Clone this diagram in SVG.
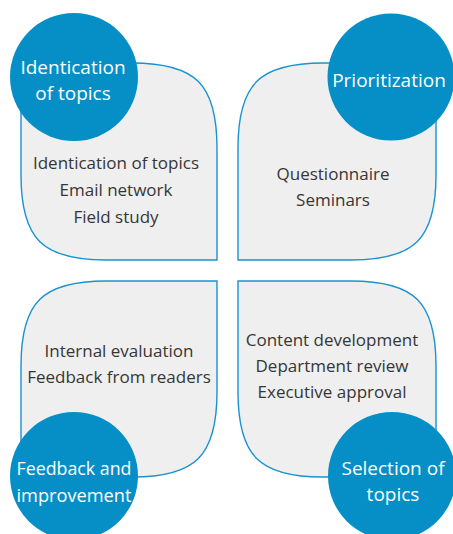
<svg xmlns="http://www.w3.org/2000/svg" width="453" height="534" viewBox="0 0 453 534">
<style>
.petal{fill:#efefef;stroke:#1a93cf;stroke-width:1.4}
.dot{fill:#058fc6}
.ct{font-family:"Open Sans","Noto Sans",sans-serif;font-size:19px;fill:#ffffff;text-anchor:middle}
.bt{font-family:"Open Sans","Noto Sans",sans-serif;font-size:17px;fill:#363636;text-anchor:middle}
</style>
<rect width="453" height="534" fill="#ffffff"/>
<g id="connectors"></g>
<g id="node-identification">
<path class="petal" d="M21,63 H132 C195.75,63 217,84.25 217,148 V260 H106 C42.25,260 21,238.75 21,175 Z"/>
<circle class="dot" cx="74" cy="77" r="64"/>
<text class="ct" x="73" y="74">Identication</text>
<text class="ct" x="73" y="100">of topics</text>
<text class="bt" x="116" y="169">Identication of topics</text>
<text class="bt" x="116" y="196">Email network</text>
<text class="bt" x="116" y="223">Field study</text>
</g>
<g id="node-prioritization">
<path class="petal" d="M238,260 V148 C238,84.25 259.25,63 323,63 H436 V175 C436,238.75 414.75,260 351,260 Z"/>
<circle class="dot" cx="391" cy="77" r="63.5"/>
<text class="ct" x="389" y="87">Prioritization</text>
<text class="bt" x="333" y="180">Questionnaire</text>
<text class="bt" x="333" y="206">Seminars</text>
</g>
<g id="node-selection">
<path class="petal" d="M238,281 H351 C414.75,281 436,302.25 436,366 V477 H323 C259.25,477 238,455.75 238,392 Z"/>
<circle class="dot" cx="392" cy="476" r="64"/>
<text class="ct" x="393" y="475">Selection of</text>
<text class="ct" x="393" y="501">topics</text>
<text class="bt" x="332" y="346">Content development</text>
<text class="bt" x="332" y="372">Department review</text>
<text class="bt" x="332" y="398">Executive approval</text>
</g>
<g id="node-feedback">
<path class="petal" d="M21,477 V366 C21,302.25 42.25,281 106,281 H217 V392 C217,455.75 195.75,477 132,477 Z"/>
<circle class="dot" cx="74" cy="476" r="64"/>
<text class="ct" x="74" y="475" textLength="115" lengthAdjust="spacingAndGlyphs">Feedback and</text>
<text class="ct" x="74" y="502" textLength="115" lengthAdjust="spacingAndGlyphs">improvement</text>
<text class="bt" x="119" y="357">Internal evaluation</text>
<text class="bt" x="119" y="383">Feedback from readers</text>
</g>
</svg>
